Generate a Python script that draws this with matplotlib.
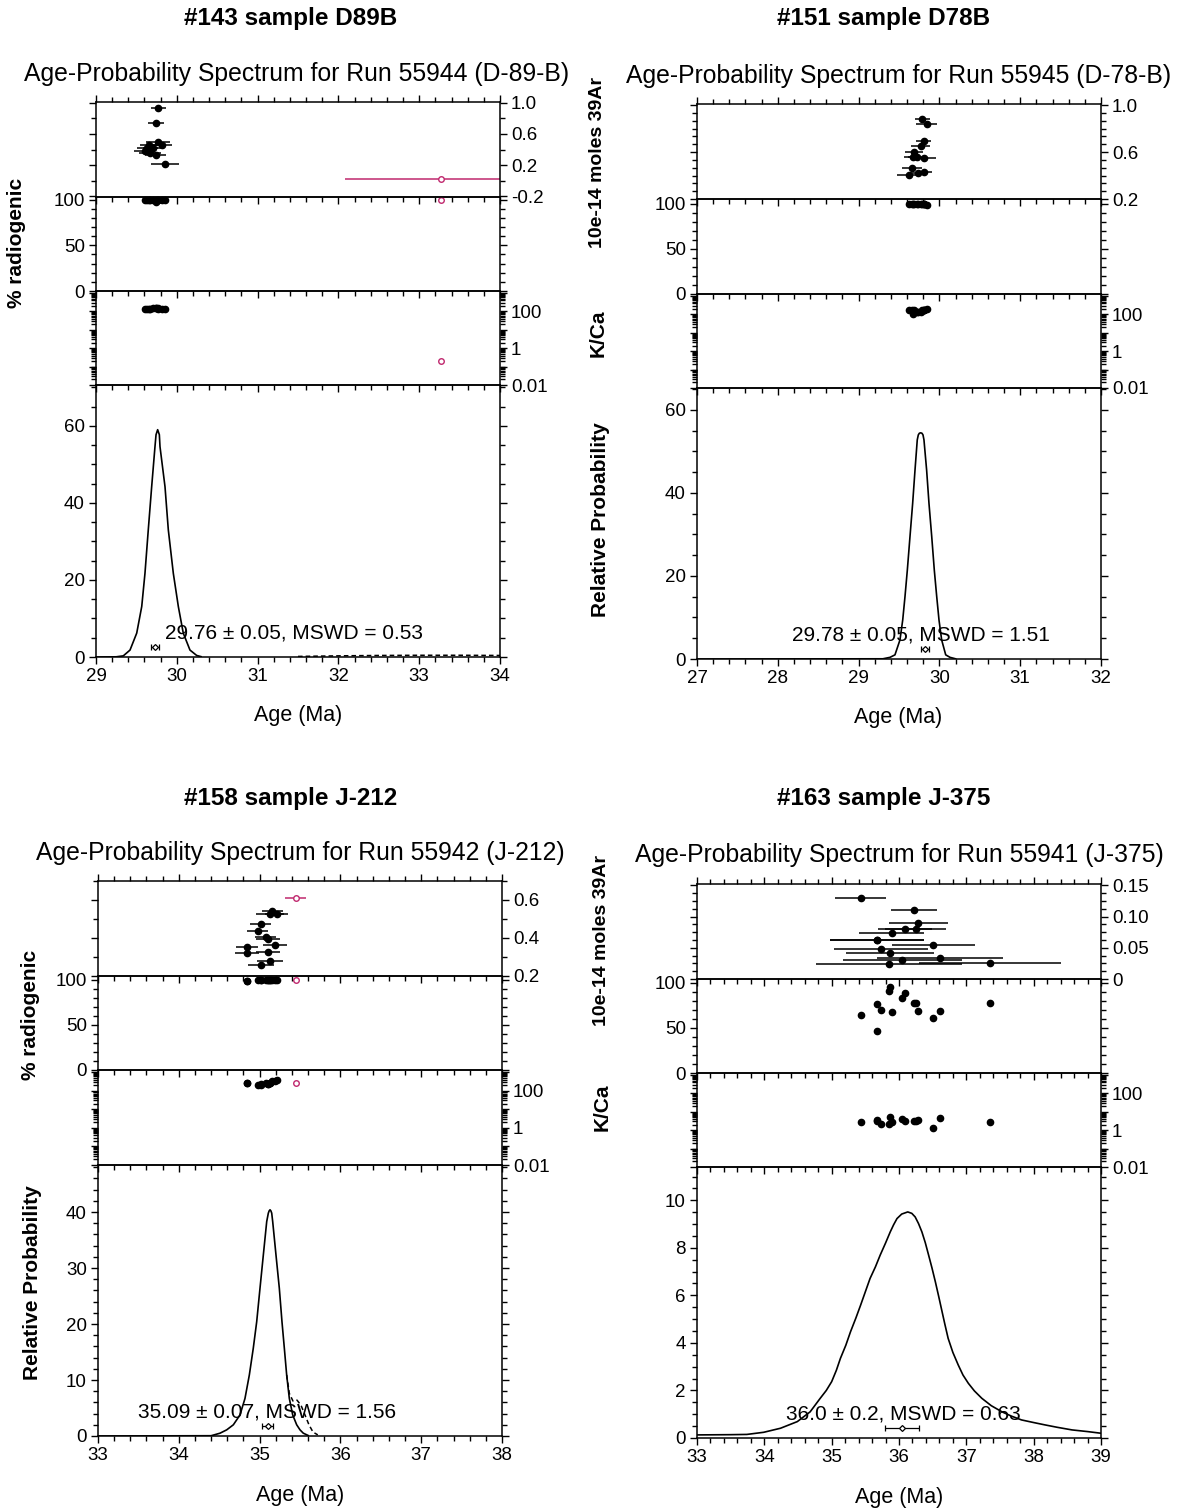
import matplotlib
matplotlib.use("Agg")
import matplotlib.pyplot as plt
import matplotlib.transforms as mtransforms
from matplotlib.ticker import MultipleLocator, AutoMinorLocator, LogLocator, NullFormatter

plt.rcParams['font.family'] = ['Liberation Sans', 'DejaVu Sans']
plt.rcParams['axes.unicode_minus'] = False

W, H = 1177, 1511
MAGENTA = '#c0286e'

# --- #143 sample D89B (run 55944) ---
a_age = [29.771, 29.739, 29.771, 29.813, 29.66, 29.635, 29.70, 29.606, 29.668, 29.739, 29.854]
a_err = [0.095, 0.097, 0.15, 0.13, 0.12, 0.13, 0.12, 0.13, 0.14, 0.13, 0.17]
a_ar39 = [0.935, 0.74, 0.49, 0.46, 0.46, 0.42, 0.415, 0.38, 0.36, 0.33, 0.22]
a_rad = [100, 100, 99.5, 100, 99.5, 100, 99.5, 100, 99.5, 97, 100]
a_kca = [140, 150, 150, 140, 135, 140, 150, 135, 140, 155, 140]
a_out_age, a_out_err, a_out_ar39, a_out_rad, a_out_kca = [33.27], [1.19], [0.017], [100], [0.2]
a_curve_age = [29.0, 29.25, 29.338, 29.421, 29.504, 29.566, 29.606, 29.647, 29.689, 29.730, 29.743,
               29.763, 29.784, 29.792, 29.854, 29.895, 29.957, 30.019, 30.080, 30.163, 30.246, 30.3]
a_curve_prob = [0, 0.05, 0.3, 1.8, 6.2, 13.1, 21.7, 33.0, 44.2, 54.6, 57.7,
                59.0, 57.7, 54.6, 44.2, 33.0, 21.7, 13.1, 6.2, 1.8, 0.4, 0.1]
a_dash_age = [31.5, 32.0, 32.5, 33.0, 33.5, 34.0]
a_dash_prob = [0.15, 0.3, 0.4, 0.45, 0.45, 0.4]
a_mean, a_mean_err = 29.73, 0.054

# --- #151 sample D78B (run 55945) ---
b_age = [29.789, 29.843, 29.809, 29.768, 29.689, 29.669, 29.718, 29.813, 29.657, 29.624, 29.739, 29.809]
b_err = [0.093, 0.128, 0.093, 0.12, 0.113, 0.109, 0.11, 0.144, 0.124, 0.144, 0.11, 0.103]
b_ar39 = [0.881, 0.836, 0.696, 0.651, 0.603, 0.555, 0.56, 0.552, 0.467, 0.404, 0.419, 0.432]
b_rad = [100, 98.5, 100, 99.5, 100, 100, 99.5, 100, 100, 99.5, 100, 100]
b_kca = [165, 203, 186, 133, 165, 109, 133, 186, 165, 165, 133, 165]
b_curve_age = [27.0, 29.3, 29.389, 29.450, 29.512, 29.546, 29.574, 29.603, 29.636, 29.669, 29.698, 29.726,
               29.739, 29.752, 29.768, 29.784, 29.797, 29.809, 29.842, 29.871, 29.905, 29.937, 29.967,
               29.995, 30.028, 30.078, 30.131, 30.2]
b_curve_prob = [0, 0.05, 0.4, 1.0, 4.6, 9.4, 15.0, 21.4, 29.5, 37.5, 45.5, 52.8,
                54.0, 54.4, 54.5, 54.4, 54.0, 52.8, 45.5, 37.5, 29.5, 21.4, 15.0,
                9.4, 4.6, 1.0, 0.4, 0.05]
b_mean, b_mean_err = 29.82, 0.05

# --- #158 sample J-212 (run 55942) ---
c_age = [35.157, 35.129, 35.211, 35.013, 34.976, 35.079, 35.108, 35.194, 34.844, 34.844, 35.108, 35.129, 35.013]
c_err = [0.13, 0.17, 0.14, 0.13, 0.13, 0.13, 0.15, 0.15, 0.14, 0.15, 0.15, 0.165, 0.16]
c_ar39 = [0.542, 0.528, 0.525, 0.475, 0.439, 0.403, 0.395, 0.364, 0.354, 0.323, 0.328, 0.279, 0.257]
c_rad = [100, 100, 100, 100, 100, 100, 100, 100, 98, 99, 100, 100, 100]
c_kca = [330, 260, 400, 230, 210, 250, 230, 330, 270, 250, 230, 260, 210]
c_out_age, c_out_err, c_out_ar39, c_out_rad, c_out_kca = [35.447], [0.13], [0.61], [100], [260]
c_curve_age = [33.0, 34.4, 34.510, 34.593, 34.675, 34.757, 34.819, 34.873, 34.922, 34.964, 35.005, 35.046,
               35.088, 35.108, 35.118, 35.129, 35.140, 35.150, 35.162, 35.203, 35.244, 35.277, 35.306,
               35.335, 35.368, 35.410, 35.459, 35.500, 35.541, 35.6]
c_curve_prob = [0, 0.05, 0.5, 1.1, 2.0, 3.75, 6.7, 10.9, 15.7, 20.4, 26.4, 32.3,
                38.3, 39.8, 40.2, 40.4, 40.2, 39.8, 38.3, 32.3, 26.4, 20.4, 15.7,
                10.9, 6.7, 3.75, 2.0, 1.1, 0.5, 0.1]
c_dash_age = [35.335, 35.368, 35.413, 35.463, 35.512, 35.562, 35.611, 35.661, 35.72]
c_dash_prob = [10.9, 7.6, 6.25, 6.4, 5.5, 3.75, 2.0, 0.7, 0.2]
c_mean, c_mean_err = 35.098, 0.07

# --- #163 sample J-375 (run 55941) ---
d_age = [35.431, 36.228, 36.287, 36.089, 36.248, 35.891, 35.668, 36.510, 35.728, 35.866, 36.609, 36.049,
         37.352, 35.851, 35.668]
d_err = [0.38, 0.34, 0.44, 0.40, 0.45, 0.48, 0.70, 0.62, 0.70, 0.66, 0.94, 0.88, 1.06, 1.08, 0.70]
d_ar39 = [0.130, 0.111, 0.090, 0.080, 0.080, 0.0735, 0.063, 0.054, 0.048, 0.042, 0.033, 0.030,
          0.026, 0.0236, 0.062]
d_rad = [63.7, 77.7, 68.5, 88.7, 77.7, 67.0, 75.8, 61.2, 69.7, 95.3, 68.5, 83.5, 77.7, 90.9, 46.5]
d_kca = [2.8, 3.2, 3.7, 3.2, 3.0, 2.8, 3.5, 1.4, 2.3, 5.2, 4.6, 4.3, 2.8, 2.3, 3.2]
d_curve_age = [33.0, 33.5, 33.74, 33.99, 34.24, 34.49, 34.68, 34.83, 34.92, 35.0, 35.07, 35.13, 35.21,
               35.28, 35.36, 35.43, 35.50, 35.57, 35.65, 35.72, 35.80, 35.87, 35.92, 35.97, 36.04,
               36.13, 36.19, 36.24, 36.29, 36.34, 36.39, 36.44, 36.49, 36.54, 36.59, 36.64, 36.68,
               36.73, 36.80, 36.88, 36.95, 37.03, 37.12, 37.23, 37.37, 37.53, 37.67, 37.82, 38.0,
               38.17, 38.35, 38.57, 38.8, 39.0]
d_curve_prob = [0.13, 0.14, 0.15, 0.24, 0.41, 0.69, 1.1, 1.67, 2.0, 2.37, 2.85, 3.35, 3.9,
                4.47, 5.05, 5.59, 6.15, 6.71, 7.2, 7.69, 8.2, 8.67, 8.97, 9.23, 9.42,
                9.51, 9.45, 9.30, 9.02, 8.67, 8.22, 7.69, 7.15, 6.57, 5.95, 5.31, 4.8,
                4.19, 3.6, 3.07, 2.65, 2.30, 1.98, 1.67, 1.36, 1.1, 0.92, 0.76, 0.65,
                0.55, 0.45, 0.34, 0.27, 0.2]
d_mean, d_mean_err = 36.04, 0.25

fig = plt.figure(figsize=(W / 100, H / 100), dpi=100)


def box(l, t, r, b):
    return [l / W, 1 - b / H, (r - l) / W, (b - t) / H]


def panneau(x0, x1, rows, xlim, p):
    axs = []
    for i in range(4):
        ax = fig.add_axes(box(x0, rows[i], x1, rows[i + 1]))
        ax.patch.set_alpha(0)
        ax.set_xlim(xlim)
        ax.xaxis.set_major_locator(MultipleLocator(1))
        ax.xaxis.set_minor_locator(MultipleLocator(0.2))
        for s in ax.spines.values():
            s.set_linewidth(1.1)
        ax.tick_params(which='both', direction='out', top=(i == 0), bottom=True, left=True, right=True,
                       labelbottom=(i == 3), labelleft=(i in (1, 3)), labelright=(i in (0, 2)),
                       labelsize=13.5, width=1, pad=3)
        ax.tick_params(which='major', length=5)
        ax.tick_params(which='minor', length=3.5)
        axs.append(ax)
    ax1, ax2, ax3, ax4 = axs

    # 39Ar
    ax1.errorbar(p['age'], p['ar39'], xerr=p['err'], fmt='o', color='black', ms=4.5,
                 elinewidth=1.1, capsize=0)
    if 'out_age' in p:
        ax1.errorbar(p['out_age'], p['out_ar39'], xerr=p['out_err'], fmt='o', mfc='white', mec=MAGENTA,
                     ecolor=MAGENTA, ms=4, mew=1, elinewidth=1.1, capsize=0)
    ax1.set_ylim(p['ar_lim'])
    ax1.set_yticks(p['ar_ticks'], p['ar_labels'])
    ax1.yaxis.set_minor_locator(AutoMinorLocator(p['ar_minor']))

    # % radiogenic
    ax2.plot(p['age'], p['rad'], 'o', color='black', ms=4.5, clip_on=False)
    if 'out_age' in p:
        ax2.plot(p['out_age'], p['out_rad'], 'o', mfc='white', mec=MAGENTA, ms=4, mew=1)
    ax2.set_ylim(p['rad_lim'])
    ax2.set_yticks([0, 50, 100], ['0', '50', '100'])
    ax2.yaxis.set_minor_locator(MultipleLocator(10))

    # K/Ca
    ax3.set_yscale('log')
    ax3.plot(p['age'], p['kca'], 'o', color='black', ms=4.5)
    if 'out_age' in p:
        ax3.plot(p['out_age'], p['out_kca'], 'o', mfc='white', mec=MAGENTA, ms=4, mew=1)
    ax3.set_ylim(0.01, 1300)
    ax3.set_yticks([0.01, 0.1, 1, 10, 100, 1000], ['0.01', '', '1', '', '100', ''])
    ax3.yaxis.set_minor_locator(LogLocator(base=10, subs=range(2, 10), numticks=20))
    ax3.yaxis.set_minor_formatter(NullFormatter())

    # probability
    ax4.plot(p['curve_age'], p['curve_prob'], color='black', lw=1.2)
    if 'dash_age' in p:
        ax4.plot(p['dash_age'], p['dash_prob'], color='black', lw=1.1, ls=(0, (3, 2)))
    ax4.set_ylim(p['prob_lim'])
    ax4.yaxis.set_major_locator(MultipleLocator(p['prob_major']))
    ax4.yaxis.set_minor_locator(AutoMinorLocator(p['prob_minor']))
    tr = mtransforms.blended_transform_factory(ax4.transData, ax4.transAxes)
    ax4.errorbar([p['mean']], [0.038], xerr=[p['mean_err']], fmt='D', mfc='white', mec='black',
                 ecolor='black', ms=3, mew=0.9, elinewidth=0.9, capsize=2.5, capthick=0.9, transform=tr)
    ax4.text(p['txt_x'], 0.089, p['txt'], transform=ax4.transAxes, fontsize=15, va='center', ha='left')
    return axs


pa = dict(age=a_age, err=a_err, ar39=a_ar39, rad=a_rad, kca=a_kca,
          out_age=a_out_age, out_err=a_out_err, out_ar39=a_out_ar39, out_rad=a_out_rad, out_kca=a_out_kca,
          curve_age=a_curve_age, curve_prob=a_curve_prob, dash_age=a_dash_age, dash_prob=a_dash_prob,
          mean=a_mean, mean_err=a_mean_err,
          ar_lim=(-0.21, 1.01), ar_ticks=[-0.2, 0.2, 0.6, 1.0], ar_labels=['-0.2', '0.2', '0.6', '1.0'], ar_minor=2,
          rad_lim=(0, 103), prob_lim=(0, 70.6), prob_major=20, prob_minor=4,
          txt='29.76 ± 0.05, MSWD = 0.53', txt_x=0.171)
pb = dict(age=b_age, err=b_err, ar39=b_ar39, rad=b_rad, kca=b_kca,
          curve_age=b_curve_age, curve_prob=b_curve_prob, mean=b_mean, mean_err=b_mean_err,
          ar_lim=(0.2, 1.01), ar_ticks=[0.2, 0.6, 1.0], ar_labels=['0.2', '0.6', '1.0'], ar_minor=6,
          rad_lim=(0, 105), prob_lim=(0, 65.3), prob_major=20, prob_minor=4,
          txt='29.78 ± 0.05, MSWD = 1.51', txt_x=0.235)
pc = dict(age=c_age, err=c_err, ar39=c_ar39, rad=c_rad, kca=c_kca,
          out_age=c_out_age, out_err=c_out_err, out_ar39=c_out_ar39, out_rad=c_out_rad, out_kca=c_out_kca,
          curve_age=c_curve_age, curve_prob=c_curve_prob, dash_age=c_dash_age, dash_prob=c_dash_prob,
          mean=c_mean, mean_err=c_mean_err,
          ar_lim=(0.2, 0.70), ar_ticks=[0.2, 0.4, 0.6], ar_labels=['0.2', '0.4', '0.6'], ar_minor=2,
          rad_lim=(0, 104), prob_lim=(0, 48.4), prob_major=10, prob_minor=5,
          txt='35.09 ± 0.07, MSWD = 1.56', txt_x=0.099)
pd_ = dict(age=d_age, err=d_err, ar39=d_ar39, rad=d_rad, kca=d_kca,
           curve_age=d_curve_age, curve_prob=d_curve_prob, mean=d_mean, mean_err=d_mean_err,
           ar_lim=(0, 0.152), ar_ticks=[0, 0.05, 0.10, 0.15], ar_labels=['0', '0.05', '0.10', '0.15'], ar_minor=4,
           rad_lim=(0, 104), prob_lim=(0, 11.4), prob_major=2, prob_minor=4,
           txt='36.0 ± 0.2, MSWD = 0.63', txt_x=0.220)

panneau(96, 500, [102, 197, 291, 385, 657], (29, 34), pa)
panneau(697, 1101, [104, 199, 294, 388, 659], (27, 32), pb)
panneau(98, 502, [881, 976, 1070, 1165, 1436], (33, 38), pc)
panneau(697, 1101, [884, 979, 1073, 1167, 1438], (33, 39), pd_)


def ftext(x, y, s, **kw):
    fig.text(x / W, 1 - y / H, s, ha='center', va='center', **kw)


# titres
ftext(291, 18, '#143 sample D89B', fontsize=17.5, fontweight='bold')
ftext(884, 18, '#151 sample D78B', fontsize=17.5, fontweight='bold')
ftext(291, 799, '#158 sample J-212', fontsize=17.5, fontweight='bold')
ftext(884, 799, '#163 sample J-375', fontsize=17.5, fontweight='bold')
ftext(297, 74, 'Age-Probability Spectrum for Run 55944 (D-89-B)', fontsize=17.8)
ftext(899, 76, 'Age-Probability Spectrum for Run 55945 (D-78-B)', fontsize=17.8)
ftext(300, 853, 'Age-Probability Spectrum for Run 55942 (J-212)', fontsize=17.8)
ftext(899, 855, 'Age-Probability Spectrum for Run 55941 (J-375)', fontsize=17.8)
ftext(298, 716, 'Age (Ma)', fontsize=15.5)
ftext(898, 718, 'Age (Ma)', fontsize=15.5)
ftext(300, 1495, 'Age (Ma)', fontsize=15.5)
ftext(899, 1497, 'Age (Ma)', fontsize=15.5)

# etiquettes verticales
lab = dict(fontsize=15, fontweight='bold', rotation=90)
ftext(17, 243, '% radiogenic', **lab)
ftext(597, 162, '10e-14 moles 39Ar', fontsize=14, fontweight='bold', rotation=90)
ftext(598, 333, 'K/Ca', **lab)
ftext(601, 520, 'Relative Probability', **lab)
ftext(31, 1015, '% radiogenic', **lab)
ftext(33, 1283, 'Relative Probability', **lab)
ftext(601, 940, '10e-14 moles 39Ar', fontsize=14, fontweight='bold', rotation=90)
ftext(602, 1107, 'K/Ca', **lab)

fig.savefig('out.png', dpi=100)
